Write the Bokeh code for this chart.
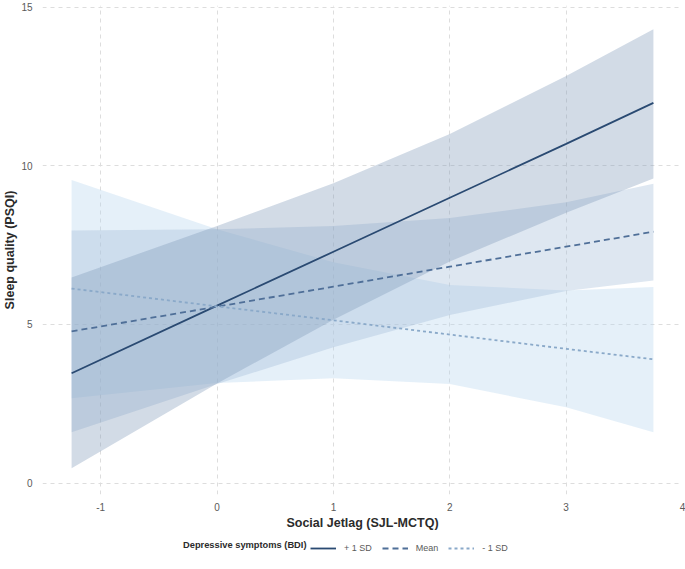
from bokeh.plotting import figure
from bokeh.layouts import column
from bokeh.models import Legend, LegendItem, Range1d, FixedTicker, Label
from bokeh.embed import file_html
from bokeh.resources import INLINE

# ---- data ----
x_vals = [-1.25, 0, 1, 2, 3, 3.75]

plus_line = [3.46, 5.59, 7.29, 8.99, 10.69, 11.98]
plus_lo = [0.47, 3.14, 5.15, 6.98, 8.52, 9.60]
plus_hi = [6.48, 8.10, 9.45, 11.00, 12.83, 14.30]

mean_line = [4.78, 5.56, 6.19, 6.82, 7.45, 7.92]
mean_lo = [1.60, 3.12, 4.28, 5.30, 6.05, 6.38]
mean_hi = [7.96, 8.00, 8.10, 8.35, 8.85, 9.43]

minus_line = [6.13, 5.57, 5.13, 4.68, 4.23, 3.90]
minus_lo = [2.67, 3.15, 3.30, 3.12, 2.39, 1.60]
minus_hi = [9.55, 8.00, 6.96, 6.24, 6.07, 6.18]

x_ticks = [-1, 0, 1, 2, 3, 4]
y_ticks = [0, 5, 10, 15]

legend_title = "Depressive symptoms (BDI)"
series_labels = ["+ 1 SD", "Mean", "- 1 SD"]

FONT = "Liberation Sans"

line_styles = [
    dict(line_color="#2a4a72", line_width=1.8),
    dict(line_color="#4f6f98", line_width=1.8, line_dash="6 4"),
    dict(line_color="#8aa9c9", line_width=1.8, line_dash="3 3"),
]
series_lines = [plus_line, mean_line, minus_line]

p = figure(width=685, height=535, output_backend="svg", toolbar_location=None,
           x_range=Range1d(-1.5, 4.0), y_range=Range1d(-0.36, 15.05),
           min_border_left=41, min_border_right=3, min_border_top=5,
           min_border_bottom=41, background_fill_color="white",
           border_fill_color="white")
p.outline_line_color = None

# ribbons
p.varea(x=x_vals, y1=minus_lo, y2=minus_hi, fill_color="#b4d3ee", fill_alpha=0.35)
p.varea(x=x_vals, y1=mean_lo, y2=mean_hi, fill_color="#a1b9d6", fill_alpha=0.35)
p.varea(x=x_vals, y1=plus_lo, y2=plus_hi, fill_color="#7e98b8", fill_alpha=0.35)

# lines
for ys, st in zip(series_lines, line_styles):
    p.line(x_vals, ys, **st)

# axes
for ax in (p.xaxis[0], p.yaxis[0]):
    ax.axis_line_color = None
    ax.major_tick_line_color = None
    ax.minor_tick_line_color = None
    ax.major_tick_out = 0
    ax.major_tick_in = 0
    ax.minor_tick_out = 0
    ax.major_label_text_font = FONT
    ax.major_label_text_font_size = "10px"
    ax.major_label_text_color = "#5a5a5a"
    ax.axis_label_text_font = FONT
    ax.axis_label_text_font_size = "12.5px"
    ax.axis_label_text_font_style = "bold"
    ax.axis_label_text_color = "#2b2b2b"

p.xaxis.ticker = FixedTicker(ticks=x_ticks)
p.yaxis.ticker = FixedTicker(ticks=y_ticks)
p.xaxis.major_label_overrides = {t: str(t) for t in x_ticks}
p.xaxis.axis_label = "Social Jetlag (SJL-MCTQ)"
p.yaxis.axis_label = "Sleep quality (PSQI)"
p.xaxis.major_label_standoff = 8
p.xaxis.axis_label_standoff = 2
p.yaxis.major_label_standoff = 10
p.yaxis.axis_label_standoff = 1

p.xgrid.ticker = FixedTicker(ticks=x_ticks)
p.ygrid.ticker = FixedTicker(ticks=y_ticks)
for g in (p.xgrid[0], p.ygrid[0]):
    g.grid_line_color = "#dddddd"
    g.grid_line_dash = "4 4"
    g.grid_line_width = 1

# ---- legend row (separate strip under the plot) ----
q = figure(width=685, height=34, output_backend="svg", toolbar_location=None,
           x_range=Range1d(-1.5, 4.0), y_range=Range1d(0, 1),
           x_axis_type=None, y_axis_type=None,
           min_border_left=41, min_border_right=3, min_border_top=0,
           min_border_bottom=0, background_fill_color="white",
           border_fill_color="white")
q.outline_line_color = None
q.grid.visible = False

legend_renderers = []
for ys, st in zip(series_lines, line_styles):
    r = q.line(x_vals, ys, **st)
    r.visible = False
    legend_renderers.append(r)

legend = Legend(items=[LegendItem(label=lab, renderers=[r])
                       for lab, r in zip(series_labels, legend_renderers)],
                orientation="horizontal", location=(268, 15))
legend.label_text_font = FONT
legend.label_text_font_size = "9px"
legend.label_text_color = "#5a5a5a"
legend.glyph_width = 26
legend.glyph_height = 12
legend.label_height = 12
legend.label_standoff = 8
legend.spacing = 10
legend.padding = 4
legend.margin = 0
legend.border_line_color = None
legend.background_fill_alpha = 0
legend.inactive_fill_alpha = 0
q.add_layout(legend)

title_lbl = Label(x=264, y=25, x_units="screen", y_units="screen",
                  text=legend_title, text_align="right", text_baseline="middle",
                  text_font=FONT, text_font_size="9.3px", text_font_style="bold",
                  text_color="#2b2b2b")
q.add_layout(title_lbl)

open("out.html", "w").write(file_html(column(p, q, spacing=0), INLINE))
